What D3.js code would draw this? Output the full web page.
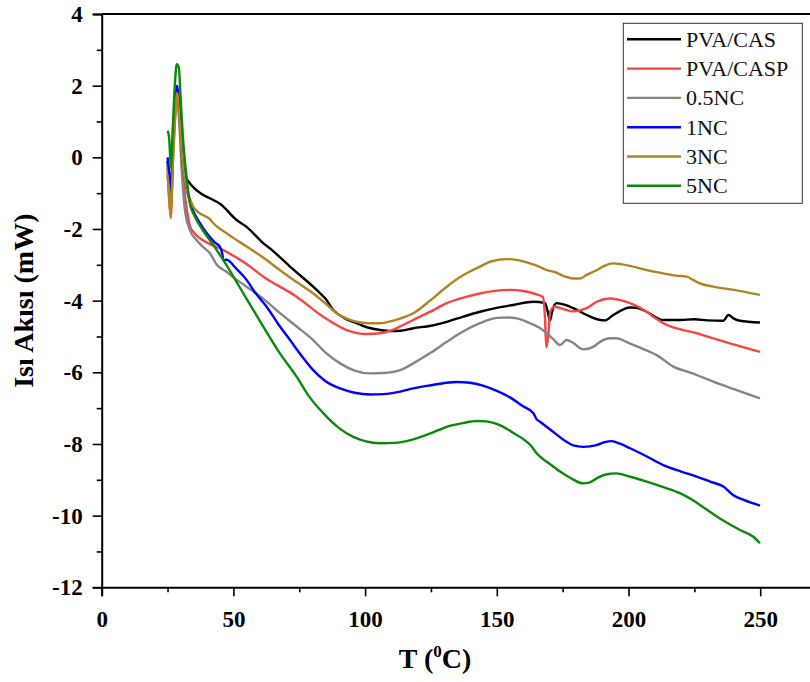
<!DOCTYPE html>
<html><head><meta charset="utf-8">
<script src="https://cdn.jsdelivr.net/npm/d3@7/dist/d3.min.js"></script>
<style>body{margin:0;background:#fff}svg{display:block}</style>
</head><body>
<svg id="chart" width="810" height="682"></svg>
<script>
// ---- data ----
const xTicks = [0, 50, 100, 150, 200, 250];
const xMinorTicks = [25, 75, 125, 175, 225];
const yTicks = [4, 2, 0, -2, -4, -6, -8, -10, -12];
const yMinorTicks = [3, 1, -1, -3, -5, -7, -9, -11];
const seriesNames = ["PVA/CAS", "PVA/CASP", "0.5NC", "1NC", "3NC", "5NC"];
const seriesColors = ["#000000", "#f54545", "#858585", "#0000ff", "#b08423", "#0a8a0a"];

const pvaCas = [[25,-0.1],[26.2,-1.0],[27.3,0.8],[28.6,1.9],[29.5,1.2],[30.5,0.0],[31.5,-0.45],[33,-0.68],[35,-0.85],[37.5,-1.0],[42.4,-1.19],[45,-1.3],[51.2,-1.75],[55,-1.94],[61.4,-2.4],[64,-2.55],[71.5,-3.05],[81.6,-3.7],[85,-3.95],[87.9,-4.26],[92,-4.48],[96.8,-4.63],[101,-4.75],[105.7,-4.82],[110,-4.85],[113.3,-4.84],[118.3,-4.77],[125,-4.7],[131,-4.59],[137,-4.45],[143.6,-4.31],[150,-4.2],[156.3,-4.12],[163.9,-4.03],[168.3,-4.07],[169.3,-4.3],[170.2,-4.55],[171,-4.3],[172.7,-4.07],[176,-4.12],[179,-4.21],[184.1,-4.4],[189.2,-4.54],[191,-4.55],[194.2,-4.4],[200.6,-4.19],[203,-4.2],[206.9,-4.31],[213.2,-4.54],[219.7,-4.54],[225,-4.52],[230,-4.55],[236,-4.56],[237.9,-4.4],[240,-4.5],[242.3,-4.56],[249.9,-4.61]];
const pvaCasp = [[25,-0.3],[26.2,-1.6],[27.3,0.5],[28.6,1.8],[29.5,1.1],[30.5,-0.3],[31.5,-1.0],[33.6,-1.94],[35,-2.1],[37.3,-2.26],[40,-2.38],[46.2,-2.59],[55,-2.98],[61.4,-3.33],[74,-3.89],[84.1,-4.45],[93,-4.82],[100.6,-4.93],[105.7,-4.91],[110,-4.83],[113.3,-4.72],[118.3,-4.54],[125,-4.3],[131,-4.07],[137,-3.92],[143.6,-3.8],[150,-3.72],[155,-3.7],[160,-3.73],[164,-3.8],[167.5,-3.9],[168.3,-4.5],[168.8,-5.3],[169.5,-5.0],[170.3,-4.3],[172,-4.17],[176,-4.25],[179,-4.3],[184.1,-4.21],[187.9,-4.03],[193,-3.94],[196,-3.97],[200.6,-4.07],[206.9,-4.31],[210,-4.48],[213.2,-4.63],[225.9,-4.91],[238.5,-5.19],[249.9,-5.43]];
const nc05 = [[25,-0.2],[26.2,-1.4],[27.3,0.4],[28.6,1.6],[29.5,0.9],[30.5,-0.5],[31.6,-1.47],[33.5,-2.03],[36,-2.31],[38.5,-2.5],[41.1,-2.68],[43.7,-3.0],[47.5,-3.2],[50,-3.35],[55,-3.61],[61.4,-3.95],[67.7,-4.35],[74,-4.72],[80.3,-5.1],[85,-5.45],[90.5,-5.75],[96,-5.95],[101.9,-6.03],[107,-6.02],[113.3,-5.94],[118.3,-5.75],[125,-5.45],[131,-5.15],[137,-4.87],[143.6,-4.63],[150,-4.48],[153.8,-4.47],[158,-4.5],[162.6,-4.63],[166,-4.75],[169,-4.91],[171.5,-5.08],[174,-5.24],[176.5,-5.1],[179,-5.18],[182.8,-5.36],[186.6,-5.29],[189.2,-5.15],[193,-5.05],[195.5,-5.05],[200,-5.18],[205,-5.33],[210.7,-5.52],[217,-5.84],[224,-6.02],[232.2,-6.26],[240,-6.47],[249.9,-6.73]];
const nc1 = [[25,0.0],[25.8,-0.5],[26.4,-0.85],[27.2,0.6],[28.6,2.0],[29.5,1.3],[30.5,0.0],[31.5,-0.6],[33,-1.1],[34.8,-1.5],[37,-1.8],[39.9,-2.12],[43,-2.38],[44.9,-2.5],[45.8,-2.7],[46.2,-2.87],[47.5,-2.86],[48.7,-2.91],[50,-3.02],[55,-3.42],[58,-3.75],[62.6,-4.17],[67,-4.65],[71.5,-5.1],[76,-5.55],[80.3,-5.94],[85,-6.25],[90.5,-6.45],[96,-6.57],[101.9,-6.62],[107,-6.61],[113.3,-6.54],[118.3,-6.45],[125,-6.36],[131,-6.29],[135,-6.27],[139.8,-6.29],[145,-6.38],[150,-6.52],[155,-6.7],[160,-6.95],[163.9,-7.14],[165,-7.3],[166.4,-7.38],[170,-7.58],[176.5,-7.94],[179,-8.04],[182.8,-8.08],[187.9,-8.03],[191,-7.95],[193.6,-7.92],[197,-8.0],[200.6,-8.12],[207,-8.35],[213.2,-8.59],[220,-8.77],[225.9,-8.91],[231,-9.05],[236,-9.19],[239.8,-9.43],[244,-9.57],[249.9,-9.72]];
const nc3 = [[25,-0.5],[25.6,-1.0],[26.2,-1.7],[27,-0.2],[27.8,1.0],[28.6,1.8],[29.5,1.1],[30.5,0.0],[31.5,-0.6],[33,-1.05],[34.8,-1.38],[37,-1.55],[41,-1.72],[42.4,-1.84],[48,-2.15],[55,-2.49],[61.4,-2.8],[67.7,-3.15],[74,-3.48],[80.3,-3.8],[85,-4.08],[89.2,-4.35],[93,-4.5],[96.8,-4.59],[101,-4.63],[105.7,-4.63],[110,-4.57],[113.3,-4.5],[118.3,-4.35],[125,-3.98],[131,-3.61],[137,-3.3],[143.6,-3.05],[148,-2.9],[153.8,-2.84],[158,-2.87],[162.6,-2.96],[166,-3.05],[169,-3.15],[172,-3.2],[176,-3.33],[179,-3.38],[181.6,-3.38],[184.1,-3.28],[187.9,-3.15],[191,-3.02],[194.2,-2.96],[197,-2.98],[200.6,-3.03],[207,-3.15],[213.2,-3.24],[218,-3.3],[222.1,-3.33],[224.5,-3.42],[227.1,-3.52],[232.2,-3.61],[240,-3.7],[249.9,-3.84]];
const nc5 = [[25,0.74],[25.6,0.55],[26.3,-0.3],[26.8,0.5],[27.8,2.06],[28.5,2.6],[29.3,2.5],[30,1.6],[31,0.4],[32.3,-0.6],[33.5,-1.3],[35,-1.6],[36,-1.75],[39,-2.1],[42.4,-2.45],[46,-2.85],[50,-3.33],[55,-3.95],[61.4,-4.73],[67,-5.4],[74,-6.12],[79,-6.7],[84.1,-7.14],[90,-7.55],[95.5,-7.8],[100,-7.92],[105.7,-7.98],[111,-7.97],[118.3,-7.87],[125,-7.7],[131,-7.52],[137,-7.42],[142.4,-7.36],[146,-7.37],[148.7,-7.41],[152,-7.5],[156,-7.68],[161.4,-7.94],[163,-8.05],[165.1,-8.26],[170,-8.55],[174,-8.77],[178,-8.95],[182.8,-9.1],[185,-9.08],[187.9,-8.96],[191,-8.86],[195.5,-8.82],[200,-8.9],[206.9,-9.05],[213,-9.2],[219.7,-9.38],[224,-9.55],[227.1,-9.7],[234.7,-10.08],[242.3,-10.4],[247.4,-10.59],[249.9,-10.77]];
const seriesData = [pvaCas, pvaCasp, nc05, nc1, nc3, nc5];

// ---- drawing ----
const svg = d3.select("#chart");
const FONT = "'Liberation Serif','Times New Roman',serif";
const x = d3.scaleLinear().domain([0, 270]).range([101.7, 812.9]);
const y = d3.scaleLinear().domain([-12, 4]).range([587.3, 14]);
const numFmt = d => (d < 0 ? "-" + Math.abs(d) : String(d));

// top frame line
svg.append("line").attr("x1", x(0)).attr("x2", 812).attr("y1", y(4)).attr("y2", y(4))
  .attr("stroke", "#000").attr("stroke-width", 2);

// X axis
const gx = svg.append("g").attr("transform", `translate(0,${y(-12)})`);
gx.call(d3.axisBottom(x).tickValues(xTicks).tickSize(9).tickPadding(14).tickFormat(numFmt));
gx.append("g").call(d3.axisBottom(x).tickValues(xMinorTicks).tickSize(5).tickFormat(() => ""))
  .select(".domain").remove();
gx.selectAll(".domain").attr("stroke-width", 2);
gx.selectAll(".tick line").attr("stroke-width", 1.6);
gx.selectAll("text").attr("font-family", FONT).attr("font-size", 23).attr("font-weight", "bold").attr("fill", "#000");

// Y axis
const gy = svg.append("g").attr("transform", `translate(${x(0)},0)`);
gy.call(d3.axisLeft(y).tickValues(yTicks).tickSize(9).tickPadding(10).tickFormat(numFmt));
gy.append("g").call(d3.axisLeft(y).tickValues(yMinorTicks).tickSize(5).tickFormat(() => ""))
  .select(".domain").remove();
gy.selectAll(".domain").attr("stroke-width", 2);
gy.selectAll(".tick line").attr("stroke-width", 1.6);
gy.selectAll("text").attr("font-family", FONT).attr("font-size", 23).attr("font-weight", "bold").attr("fill", "#000");

// lines
const line = d3.line().x(d => x(d[0])).y(d => y(d[1])).curve(d3.curveMonotoneX);
svg.append("g").selectAll("path").data(seriesData).join("path")
  .attr("d", line).attr("fill", "none")
  .attr("stroke", (d, i) => seriesColors[i]).attr("stroke-width", 2.4)
  .attr("stroke-linejoin", "round");

// axis titles
svg.append("text").attr("transform", `translate(33,${y(-4)}) rotate(-90)`)
  .attr("text-anchor", "middle").attr("font-family", FONT).attr("font-size", 28)
  .attr("font-weight", "bold").text("Isı Akısı (mW)");
const xt = svg.append("text").attr("x", 435).attr("y", 668).attr("text-anchor", "middle")
  .attr("font-family", FONT).attr("font-size", 28).attr("font-weight", "bold");
xt.append("tspan").text("T (");
xt.append("tspan").attr("font-size", 17).attr("dy", -11).text("0");
xt.append("tspan").attr("dy", 11).text("C)");

// legend
const lg = svg.append("g");
lg.append("rect").attr("x", 623.3).attr("y", 23.3).attr("width", 179).attr("height", 180)
  .attr("fill", "#fff").attr("stroke", "#333").attr("stroke-width", 1);
seriesNames.forEach((name, i) => {
  const cy = 39.3 + i * 29.3;
  lg.append("line").attr("x1", 627).attr("x2", 681).attr("y1", cy).attr("y2", cy)
    .attr("stroke", seriesColors[i]).attr("stroke-width", 2.4);
  lg.append("text").attr("x", 686).attr("y", cy + 7.5).attr("font-family", FONT)
    .attr("font-size", 22).attr("fill", "#111").text(name);
});
</script>
</body></html>
